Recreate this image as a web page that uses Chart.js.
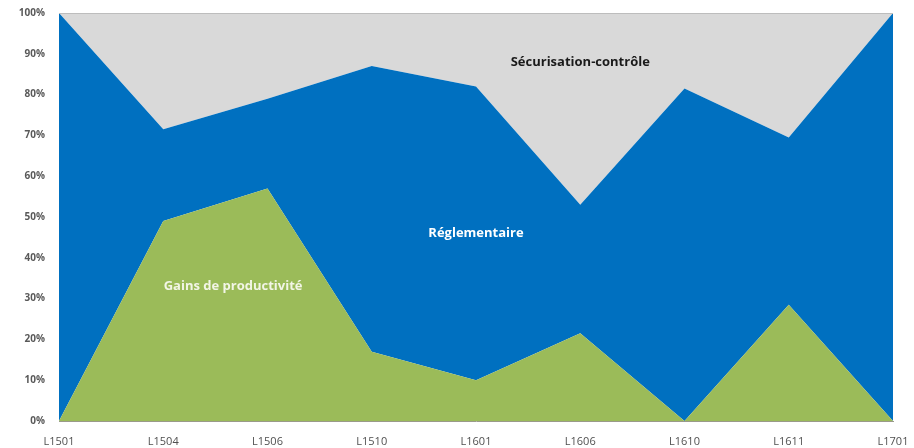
<!DOCTYPE html>
<html lang="fr">
<head>
    <meta charset="UTF-8">
    <title>Répartition</title>
    <script src="https://cdn.jsdelivr.net/npm/chart.js"></script>
    <style>
        body {
            margin: 0;
            background: #ffffff;
            overflow: hidden;
        }
        .chart-box {
            width: 914px;
            height: 448px;
        }
    </style>
</head>
<body>
    <div class="chart-box">
        <canvas id="chart"></canvas>
    </div>

    <script>
        // Données (en %)
        const lots = ['L1501', 'L1504', 'L1506', 'L1510', 'L1601', 'L1606', 'L1610', 'L1611', 'L1701'];
        const gains = [0, 49, 57, 17, 10, 21.5, 0, 28.5, 0];
        const reglementaire = [100, 22.5, 22, 70, 72, 31.5, 81.5, 41, 100];
        const securisation = [0, 28.5, 21, 13, 18, 47, 18.5, 30.5, 0];
        const yTicks = [0, 10, 20, 30, 40, 50, 60, 70, 80, 90, 100];

        // Étiquettes dans les aires : [texte, index x, valeur y, couleur]
        const areaLabels = [
            ['Sécurisation-contrôle', 5, 88, '#1a1a1a'],
            ['Réglementaire', 4, 46, '#ffffff'],
            ['Gains de productivité', 1.67, 33, '#f2f5e6']
        ];

        const labelsPlugin = {
            id: 'areaLabels',
            afterDatasetsDraw(chart) {
                const ctx = chart.ctx;
                const x = chart.scales.x;
                const y = chart.scales.y;
                ctx.save();
                // trait fin en haut de la zone
                ctx.strokeStyle = '#bdbdbd';
                ctx.lineWidth = 1;
                ctx.beginPath();
                ctx.moveTo(chart.chartArea.left, chart.chartArea.top + 0.5);
                ctx.lineTo(chart.chartArea.right, chart.chartArea.top + 0.5);
                ctx.stroke();

                ctx.font = 'bold 13px "Open Sans", sans-serif';
                ctx.textAlign = 'center';
                ctx.textBaseline = 'middle';
                areaLabels.forEach(([txt, xi, yv, col]) => {
                    const px = x.left + (x.right - x.left) * xi / (lots.length - 1);
                    ctx.fillStyle = col;
                    ctx.fillText(txt, px, y.getPixelForValue(yv));
                });
                ctx.restore();
            }
        };

        const ctx = document.getElementById('chart').getContext('2d');
        new Chart(ctx, {
            type: 'line',
            data: {
                labels: lots,
                datasets: [
                    {
                        label: 'Gains de productivité',
                        data: gains,
                        backgroundColor: '#9bbb59',
                        borderWidth: 0,
                        pointRadius: 0,
                        fill: 'origin'
                    },
                    {
                        label: 'Réglementaire',
                        data: reglementaire,
                        backgroundColor: '#0070c0',
                        borderWidth: 0,
                        pointRadius: 0,
                        fill: '-1'
                    },
                    {
                        label: 'Sécurisation-contrôle',
                        data: securisation,
                        backgroundColor: '#d9d9d9',
                        borderWidth: 0,
                        pointRadius: 0,
                        fill: '-1'
                    }
                ]
            },
            options: {
                responsive: true,
                maintainAspectRatio: false,
                animation: false,
                layout: {
                    autoPadding: false,
                    padding: { top: 13, right: 21, left: 0, bottom: 0 }
                },
                plugins: {
                    legend: { display: false },
                    tooltip: { enabled: false }
                },
                scales: {
                    x: {
                        grid: { display: false, drawTicks: false },
                        border: { display: true, color: '#9a9a8a', width: 1 },
                        ticks: {
                            color: '#505050',
                            font: { family: '"Open Sans", sans-serif', size: 11 },
                            padding: 14,
                            maxRotation: 0,
                            autoSkip: false
                        },
                        afterFit(scale) {
                            scale.height = 27;
                            scale.paddingLeft = 0;
                            scale.paddingRight = 0;
                        }
                    },
                    y: {
                        stacked: true,
                        min: 0,
                        max: 100,
                        grid: { display: false, drawTicks: false },
                        border: { display: false },
                        afterBuildTicks(scale) {
                            scale.ticks = yTicks.map(v => ({ value: v }));
                        },
                        ticks: {
                            color: '#595959',
                            font: { family: '"Open Sans", sans-serif', size: 10, weight: 'bold' },
                            padding: 14,
                            callback: v => v + '%'
                        },
                        afterFit(scale) {
                            scale.width = 59;
                            scale.paddingTop = 0;
                            scale.paddingBottom = 0;
                        }
                    }
                }
            },
            plugins: [labelsPlugin]
        });
    </script>
</body>
</html>
